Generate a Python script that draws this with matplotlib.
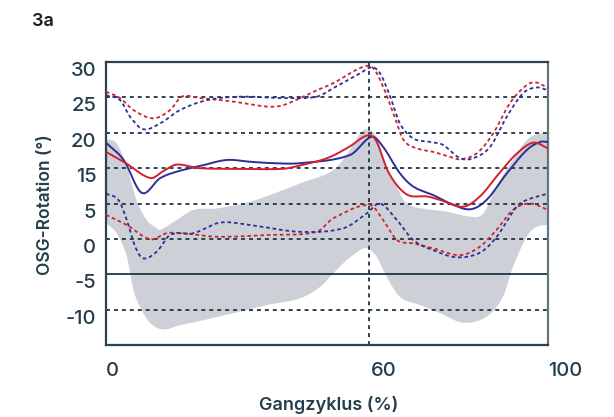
import numpy as np
import matplotlib
matplotlib.use("Agg")
import matplotlib.pyplot as plt

# ---------------- data ----------------
red_x = [0, 4, 10, 13, 16, 21, 30, 40, 44, 50, 55, 59, 61, 64, 68, 72.6, 75.6, 80.8, 84.6, 89, 93, 96.7, 100]
red_y = [17.3, 15.9, 13.6, 14.6, 15.5, 15.0, 14.9, 14.9, 15.4, 16.4, 18.0, 19.6, 19.0, 14.3, 11.3, 11.0, 10.5, 9.55, 11.0, 14.3, 17.1, 18.6, 17.8]

blue_x = [0, 4, 8.1, 12.2, 16, 21.3, 27.3, 32.6, 37.8, 43.9, 55.2, 60.1, 62.7, 66.5, 69.5, 74, 77.8, 82.4, 86.1, 90.7, 95.2, 98.2, 100]
blue_y = [18.6, 16.15, 11.5, 13.56, 14.5, 15.3, 16.15, 15.9, 15.7, 15.7, 16.85, 19.44, 18.0, 14.27, 12.4, 11.2, 10.03, 9.18, 10.5, 14.27, 17.56, 18.7, 18.7]

red_up_x = [0, 3.2, 6.2, 10.7, 14.5, 17.1, 21.3, 28.8, 36.4, 40.1, 47.7, 51.4, 58.2, 60.5, 62.7, 65, 67.3, 70.3, 74, 77.8, 80.1, 83.9, 87.6, 91.4, 95.2, 97.4, 100]
red_up_y = [25.8, 24.9, 23.2, 22.04, 23.2, 25.1, 24.9, 24.4, 23.7, 23.9, 26.0, 27.0, 29.34, 29.1, 26.5, 22.75, 19.0, 17.8, 17.3, 16.6, 16.25, 17.1, 19.9, 24.2, 26.75, 27.1, 26.3]

blue_up_x = [0, 3.2, 5.4, 8.4, 12.2, 16.7, 22.8, 30.3, 40.1, 47.7, 51.4, 57.5, 60.1, 62, 64.3, 66.5, 69.5, 73.3, 76.2, 80.1, 83.1, 86.9, 90.7, 94.4, 97.4, 100]
blue_up_y = [25.3, 24.6, 22.3, 20.5, 21.3, 23.2, 24.6, 25.1, 24.9, 25.1, 26.3, 28.4, 29.25, 28.4, 25.1, 21.3, 19.2, 18.7, 18.3, 16.4, 16.4, 18.0, 22.3, 25.6, 26.4, 26.0]

red_lo_x = [0, 4.7, 10, 13.7, 17.5, 25, 36.4, 47.7, 51.4, 59.7, 62.7, 65.8, 69.5, 74, 80.1, 84.6, 88.4, 92.1, 95.9, 100]
red_lo_y = [8.4, 6.96, 4.94, 5.8, 5.8, 5.3, 5.55, 6.0, 7.9, 9.8, 7.67, 4.84, 4.37, 3.67, 2.7, 3.9, 6.3, 9.1, 10.0, 9.1]

blue_lo_x = [0, 2.8, 4.7, 6.6, 8.4, 11.5, 14.5, 19.8, 25.8, 32.6, 43.9, 53.7, 59, 62, 65.8, 69.5, 74, 79.3, 84.6, 88.4, 92.9, 95.2, 100]
blue_lo_y = [11.4, 10.5, 7.67, 3.9, 2.25, 3.2, 5.55, 5.8, 7.3, 6.96, 6.0, 6.5, 8.6, 10.0, 7.67, 4.84, 3.4, 2.4, 3.05, 5.3, 9.55, 10.5, 11.4]

band_up_x = [0, 2.4, 4.7, 6.9, 9.2, 11.5, 12.2, 16, 19.8, 25, 32.6, 40.1, 43.9, 51.4, 55.2, 57.5, 59, 61.2, 63.5, 65.8, 67.3, 69.5, 77, 83.1, 85.4, 87.6, 89.1, 92.1, 95.2, 98.2, 100]
band_up_y = [19.1, 18.5, 15.2, 10.5, 7.67, 6.5, 6.25, 7.67, 9.1, 9.3, 10.25, 11.9, 12.85, 14.7, 17.56, 19.9, 20.5, 19.4, 15.2, 12.4, 10.5, 9.55, 8.85, 8.1, 8.6, 11.44, 13.3, 16.15, 18.97, 19.9, 19.7]

band_lo_x = [0, 2.4, 4.7, 6.2, 7.7, 10, 13, 16.7, 21.3, 28.8, 36.4, 43.9, 48.4, 51.4, 54.5, 57.5, 59, 61.2, 63.5, 66.5, 71, 75.6, 80.8, 86.1, 89.8, 92.1, 95.2, 97.4, 100]
band_lo_y = [7.2, 5.8, 2.5, -2.2, -4.6, -6.9, -7.8, -7.2, -6.6, -5.5, -4.35, -3.4, -1.8, 0.13, 2.0, 3.4, 3.67, 2.5, -0.35, -3.2, -4.35, -5.5, -6.85, -6.0, -3.2, 1.07, 5.3, 6.7, 6.96]

grid_dotted = [25, 20, 15, 10, 5, -5]
zero_line = 0
vline_x = 59.5
ytick_pos = [30, 25, 20, 15, 10, 5, 0, -5]
ytick_labels = ["30", "25", "20", "15", "5", "0", "-5", "-10"]
xtick_pos = [0, 60, 100]
xtick_labels = ["0", "60", "100"]


def smooth(xs, ys, n=30):
    """Cubic Hermite rendering through the read points (drawing only)."""
    x = np.asarray(xs, float)
    y = np.asarray(ys, float)
    m = np.empty_like(y)
    m[1:-1] = (y[2:] - y[:-2]) / (x[2:] - x[:-2])
    m[0] = (y[1] - y[0]) / (x[1] - x[0])
    m[-1] = (y[-1] - y[-2]) / (x[-1] - x[-2])
    X, Y = [], []
    for i in range(len(x) - 1):
        h = x[i + 1] - x[i]
        t = np.linspace(0, 1, n, endpoint=False)
        h00 = 2 * t**3 - 3 * t**2 + 1
        h10 = t**3 - 2 * t**2 + t
        h01 = -2 * t**3 + 3 * t**2
        h11 = t**3 - t**2
        X.append(x[i] + t * h)
        Y.append(h00 * y[i] + h10 * h * m[i] + h01 * y[i + 1] + h11 * h * m[i + 1])
    X.append([x[-1]])
    Y.append([y[-1]])
    return np.concatenate(X), np.concatenate(Y)


plt.rcParams['font.family'] = ['Inter', 'DejaVu Sans']
TXT = '#253d4a'
RED = '#d0212f'
BLUE = '#2c2f96'

fig = plt.figure(figsize=(6.14, 4.17), dpi=100)
ax = fig.add_axes([106 / 614, 1 - 345 / 417, (548 - 106) / 614, (345 - 62) / 417])
ax.set_xlim(0, 100)
ax.set_ylim(-10, 30)

# band
ux, uy = smooth(band_up_x, band_up_y)
lx, ly = smooth(band_lo_x, band_lo_y)
ax.fill(np.concatenate([ux, lx[::-1]]), np.concatenate([uy, ly[::-1]]),
        color='#cdd0d6', lw=0, zorder=1)

# grid
for g in grid_dotted:
    ax.axhline(g, color='#1e3543', lw=1.3, ls=(0, (2.2, 2.2)), zorder=2)
ax.axhline(zero_line, color='#1e3543', lw=1.3, zorder=2)
ax.axvline(vline_x, color='#1e3543', lw=1.3, ls=(0, (2.2, 2.2)), zorder=2)

# dotted series
for xs, ys, c in [(red_up_x, red_up_y, RED), (blue_up_x, blue_up_y, BLUE),
                  (red_lo_x, red_lo_y, RED), (blue_lo_x, blue_lo_y, BLUE)]:
    sx, sy = smooth(xs, ys)
    ax.plot(sx, sy, color=c, lw=1.3, ls=(0, (2.0, 1.6)), zorder=3)

# solid series
for xs, ys, c in [(blue_x, blue_y, BLUE), (red_x, red_y, RED)]:
    sx, sy = smooth(xs, ys)
    ax.plot(sx, sy, color=c, lw=1.4, zorder=4)

for side in ['left', 'top', 'bottom']:
    ax.spines[side].set_color('#2b4350')
    ax.spines[side].set_linewidth(1.6)
ax.spines['right'].set_color('#66767f')
ax.spines['right'].set_linewidth(1.6)

ax.set_yticks(ytick_pos)
ax.set_yticklabels(ytick_labels, va='top', fontsize=14.5, fontweight='medium', color=TXT)
ax.set_xticks(xtick_pos)
ax.set_xticklabels(xtick_labels, ha='left', fontsize=14.5, fontweight='medium', color=TXT)
ax.tick_params(axis='y', length=0, pad=7)
ax.tick_params(axis='x', length=0, pad=12)

fig.text(329 / 614, 1 - 405 / 417, 'Gangzyklus (%)', ha='center', va='center',
         fontsize=13, fontweight='semibold', color=TXT)
fig.text(45 / 614, 1 - 205 / 417, 'OSG-Rotation (°)', ha='center', va='center',
         rotation=90, fontsize=12.5, fontweight='semibold', color=TXT)
fig.text(32 / 614, 1 - 22 / 417, '3a', ha='left', va='center',
         fontsize=13, fontweight='semibold', color='#1c1c1c')

fig.savefig('out.png', dpi=100)
